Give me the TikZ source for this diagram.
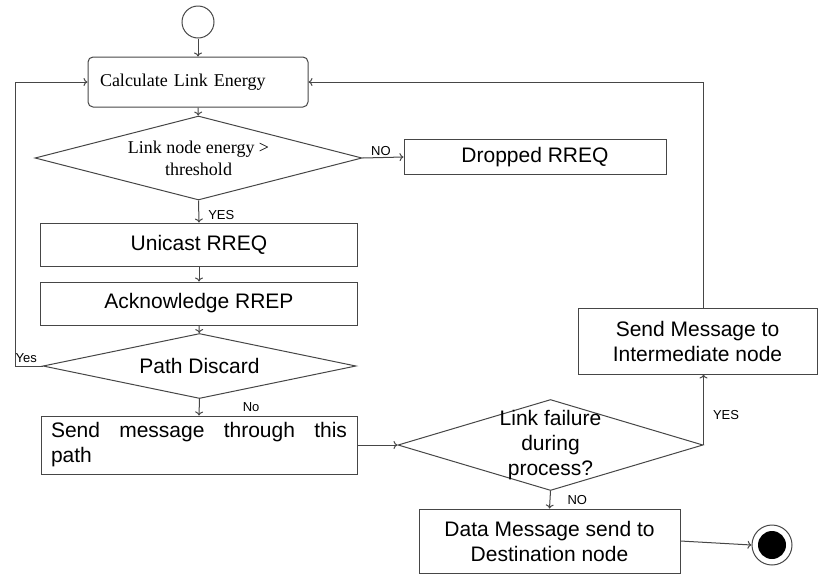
\documentclass[tikz,border=0pt]{standalone}
\usepackage{fontspec}
\setmainfont{Liberation Sans}
\newfontfamily\serifrm{Liberation Serif}
\usepackage{tikz}
\usetikzlibrary{shapes,arrows,arrows.meta,positioning}
\definecolor{flowline}{RGB}{70,70,70}

\begin{document}
\begin{tikzpicture}[x=1pt,y=-1pt,
    procbox/.style={rectangle,draw=flowline,line width=1pt,inner sep=0pt,font=\fontsize{21}{25}\selectfont},
    decision/.style={diamond,draw=flowline,line width=1pt,inner sep=0pt},
    dectext/.style={align=center,font=\fontsize{21}{25}\selectfont},
    lbl/.style={inner sep=1pt,font=\fontsize{13}{15}\selectfont},
    flow/.style={-{To[length=4pt,width=8pt]},line width=1pt,draw=flowline}]
        \useasboundingbox (0,0) rectangle (819,574);

        % Main column
        \node[circle,draw=flowline,line width=1pt,minimum size=32pt,inner sep=0pt] (start) at (198,22) {};
        \node[procbox,rounded corners=5pt,minimum width=220pt,minimum height=50pt,text width=196pt,align=left,font=\serifrm\fontsize{18}{22}\selectfont] (calc) at (198,82) {Calculate Link Energy};
        \node[decision,minimum width=327pt,minimum height=84pt,label={[dectext,font=\serifrm\fontsize{18}{22}\selectfont]center:{Link node energy >\\threshold}}] (energy) at (198.5,158) {};
        \node[procbox,minimum width=262pt,minimum height=35pt] (dropped) at (535,157) {Dropped RREQ};
        \node[procbox,minimum width=317pt,minimum height=43pt] (unicast) at (199,244.5) {Unicast RREQ};
        \node[procbox,minimum width=317pt,minimum height=43pt] (ack) at (199,303.5) {Acknowledge RREP};
        \node[decision,minimum width=313pt,minimum height=65pt,label={[dectext]center:Path Discard}] (discard) at (199.5,366) {};
        \node[procbox,minimum width=316pt,minimum height=58pt,text width=296pt,align=left] (sendpath) at (199,445) {Send\hfill message\hfill through\hfill this\\path};

        % Right side
        \node[decision,minimum width=305pt,minimum height=91pt,label={[dectext]center:{Link failure\\during\\process?}}] (failure) at (550.5,445) {};
        \node[procbox,minimum width=239pt,minimum height=66pt,align=center] (intermed) at (697.5,341) {Send Message to\\Intermediate node};
        \node[procbox,minimum width=261pt,minimum height=64pt,align=center] (datamsg) at (549.5,541) {Data Message send to\\Destination node};
        \node[circle,draw=flowline,line width=1pt,minimum size=40pt,inner sep=0pt] (finish) at (772,545) {};
        \node[circle,fill=black,minimum size=28pt,inner sep=0pt] (finishdot) at (finish) {};

        \draw[flow] (start) -- (calc);
        \draw[flow] (calc) -- (energy);
        \draw[flow] (energy.east) -- node[lbl,above=0pt,pos=0.45] {NO} (dropped.west);
        \draw[flow] (energy.south) -- node[lbl,right=8pt,pos=0.65] {YES} (unicast.north);
        \draw[flow] (unicast) -- (ack);
        \draw[flow] (ack) -- (discard);
        \draw[flow] (discard.south) -- node[lbl,right=42pt] {No} (sendpath.north);
        \draw[flow] (sendpath.east) -- (failure.west);
        \draw[flow] (failure.east) -- node[lbl,right=8pt,pos=0.42] {YES} (failure.east |- intermed.south);
        \draw[flow] (failure.south) -- node[lbl,right=16pt] {NO} (datamsg.north);
        \draw[flow] (datamsg.east) -- (finish.west);

        % Loop back to the top
        \draw[flow] (discard.west) -- node[lbl,above=2pt,pos=0.6] {Yes} ++(-27,0) |- (calc.west);
        \draw[flow] (failure.east |- intermed.north) |- (calc.east);
    \end{tikzpicture}
\end{document}
